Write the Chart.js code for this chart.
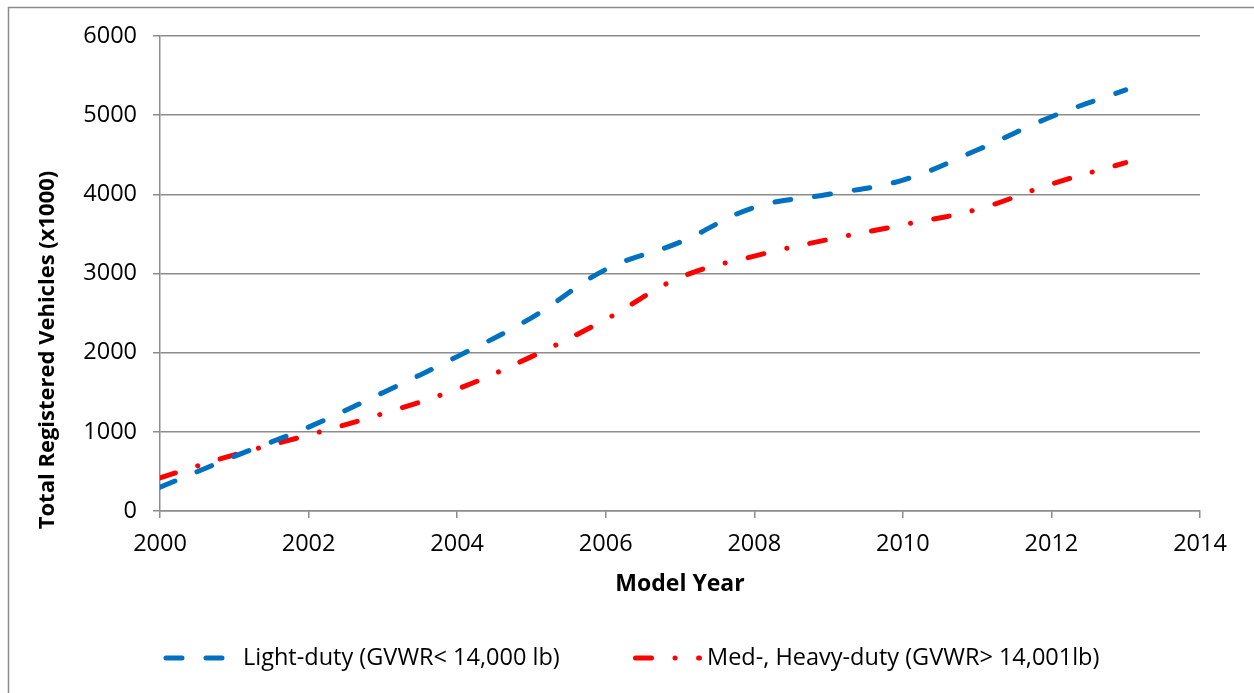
<!DOCTYPE html>
<html>
<head>
<meta charset="utf-8">
<script src="https://cdn.jsdelivr.net/npm/chart.js@4"></script>
<style>
  html, body { margin: 0; padding: 0; background: #fff; }
  #wrap { position: relative; width: 1254px; height: 693px; }
</style>
</head>
<body>
<div id="wrap"><canvas id="canvasvehicles"></canvas></div>
<script>
// model years and registered vehicles (x1000)
var years = [2000, 2001, 2002, 2003, 2004, 2005, 2006, 2007, 2008, 2009, 2010, 2011, 2012, 2013];
var lightDuty = [300, 690, 1060, 1495, 1950, 2440, 3050, 3395, 3835, 4000, 4180, 4560, 4980, 5320];
var heavyDuty = [420, 710, 960, 1230, 1540, 1950, 2420, 2950, 3220, 3430, 3615, 3810, 4130, 4400];
var seriesLabels = ['Light-duty (GVWR< 14,000 lb)', 'Med-, Heavy-duty (GVWR> 14,001lb)'];
var xTitle = 'Model Year';
var yTitle = 'Total Registered Vehicles (x1000)';

var FONT = "'Open Sans', 'Liberation Sans', sans-serif";
var GRID = '#8c8c8c';
var BLUE = '#0070C0';
var RED = '#FF0000';
var blueDash = [16, 24];
var redDash = [16, 23.5, 0.1, 23.5];

function toPoints(vals) {
    return years.map(function(y, i) { return { x: y, y: vals[i] }; });
}

// frame, y title and legend are drawn by hand, like Excel does it
var extras = {
    id: 'extras',
    afterDraw: function(chart) {
        var ctx = chart.ctx;
        ctx.save();
        // outer frame (only left and top edge are in the picture)
        ctx.strokeStyle = '#8c8c8c';
        ctx.lineWidth = 1.5;
        ctx.beginPath();
        ctx.moveTo(8.5, 693);
        ctx.lineTo(8.5, 7.5);
        ctx.lineTo(1254, 7.5);
        ctx.stroke();

        // y axis title
        ctx.fillStyle = '#000';
        ctx.font = 'bold 22px ' + FONT;
        ctx.textAlign = 'center';
        ctx.textBaseline = 'middle';
        ctx.translate(48, 350);
        ctx.rotate(-Math.PI / 2);
        ctx.fillText(yTitle, 0, 0);
        ctx.setTransform(chart.currentDevicePixelRatio, 0, 0, chart.currentDevicePixelRatio, 0, 0);

        // legend
        var ly = 658;
        ctx.lineCap = 'round';
        ctx.lineWidth = 5;
        ctx.strokeStyle = BLUE;
        ctx.setLineDash(blueDash);
        ctx.beginPath();
        ctx.moveTo(166, ly);
        ctx.lineTo(227, ly);
        ctx.stroke();

        ctx.strokeStyle = RED;
        ctx.setLineDash(redDash);
        ctx.beginPath();
        ctx.moveTo(635.5, ly);
        ctx.lineTo(699.5, ly);
        ctx.stroke();
        ctx.setLineDash([]);

        ctx.font = '23.5px ' + FONT;
        ctx.textAlign = 'left';
        ctx.fillStyle = '#000';
        ctx.fillText(seriesLabels[0], 243, ly);
        ctx.fillText(seriesLabels[1], 707, ly);
        ctx.restore();
    }
};

var ctx = document.getElementById('canvasvehicles').getContext('2d');
var vehicleChart = new Chart(ctx, {
    type: 'line',
    data: {
        datasets: [{
            label: seriesLabels[0],
            data: toPoints(lightDuty),
            borderColor: BLUE,
            borderWidth: 5,
            borderDash: blueDash,
            borderCapStyle: 'round',
            pointRadius: 0,
            tension: 0.4,
            fill: false
        }, {
            label: seriesLabels[1],
            data: toPoints(heavyDuty),
            borderColor: RED,
            borderWidth: 5,
            borderDash: redDash,
            borderCapStyle: 'round',
            pointRadius: 0,
            tension: 0.4,
            fill: false
        }]
    },
    options: {
        responsive: true,
        maintainAspectRatio: false,
        animation: false,
        layout: { padding: { left: 0, top: 36, right: 54, bottom: 92 } },
        plugins: {
            legend: { display: false },
            tooltip: { enabled: false }
        },
        scales: {
            x: {
                type: 'linear',
                min: 2000,
                max: 2014,
                afterFit: function(s) { s.height = 90; },
                ticks: {
                    stepSize: 2,
                    color: '#000',
                    font: { family: FONT, size: 23.5 },
                    padding: 12,
                    maxRotation: 0,
                    callback: function(v) { return String(v); }
                },
                grid: { drawOnChartArea: false, drawTicks: true, tickLength: 7, color: GRID, lineWidth: 1.5 },
                border: { color: GRID, width: 1.5 },
                title: {
                    display: true,
                    text: xTitle,
                    color: '#000',
                    font: { family: FONT, size: 23, weight: 'bold' },
                    padding: { top: 0, bottom: 3 }
                }
            },
            y: {
                min: 0,
                max: 6000,
                afterFit: function(s) { s.width = 160; },
                ticks: {
                    stepSize: 1000,
                    color: '#000',
                    font: { family: FONT, size: 23.5 },
                    padding: 16,
                    callback: function(v) { return String(v); }
                },
                grid: { color: GRID, lineWidth: 1.5, tickLength: 7 },
                border: { color: GRID, width: 1.5 }
            }
        }
    },
    plugins: [extras]
});
</script>
</body>
</html>
